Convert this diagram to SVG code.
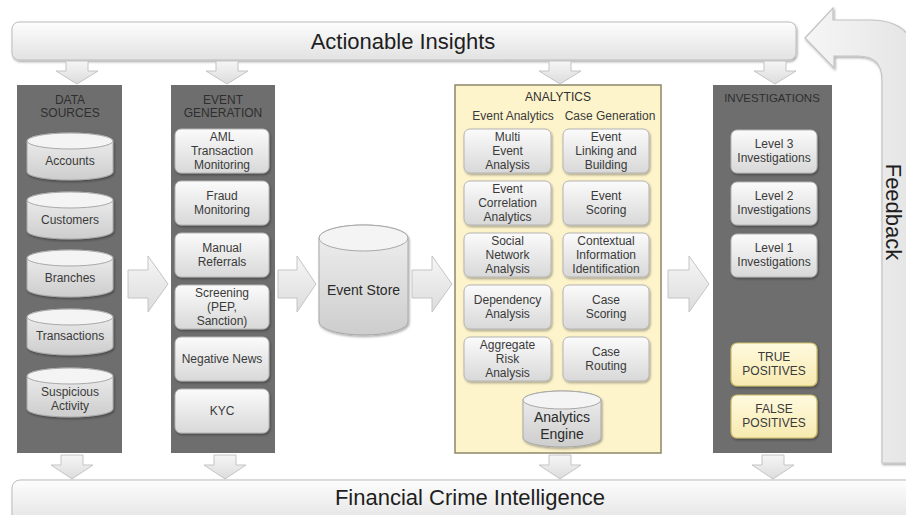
<svg xmlns="http://www.w3.org/2000/svg" width="906" height="515" viewBox="0 0 906 515">
<defs>
<linearGradient id="gBar" x1="0" y1="0" x2="0" y2="1"><stop offset="0" stop-color="#fdfdfd"/><stop offset="1" stop-color="#e2e2e2"/></linearGradient>
<linearGradient id="gBox" x1="0" y1="0" x2="0" y2="1"><stop offset="0" stop-color="#fbfbfb"/><stop offset="1" stop-color="#d8d8d8"/></linearGradient>
<linearGradient id="gCyl" x1="0" y1="0" x2="0" y2="1"><stop offset="0" stop-color="#f0f0f0"/><stop offset="1" stop-color="#cdcdcd"/></linearGradient>
<linearGradient id="gYel" x1="0" y1="0" x2="0" y2="1"><stop offset="0" stop-color="#fffadf"/><stop offset="1" stop-color="#f7eab0"/></linearGradient>
<linearGradient id="gArr" x1="0" y1="0" x2="0" y2="1"><stop offset="0" stop-color="#f6f6f6"/><stop offset="1" stop-color="#dcdcdc"/></linearGradient>
<linearGradient id="gFb" x1="0" y1="0" x2="1" y2="0"><stop offset="0" stop-color="#f6f6f6"/><stop offset="1" stop-color="#e4e4e4"/></linearGradient>
<filter id="sh" x="-10%" y="-10%" width="130%" height="140%"><feDropShadow dx="1" dy="1.5" stdDeviation="1" flood-color="#000" flood-opacity="0.35"/></filter>
</defs>
<style>
.panel{fill:#6e6e6e}
.apanel{fill:#fdf4cc;stroke:#8d8768;stroke-width:1.5}
.box{fill:url(#gBox);stroke:#b4b4b4;stroke-width:1;filter:url(#sh)}
.ybox{fill:url(#gYel);stroke:#cbbb6a;stroke-width:1.2;filter:url(#sh)}
.cyl{fill:url(#gCyl);stroke:#a8a8a8;stroke-width:1;filter:url(#sh)}
.cyltop{fill:#f4f4f4;stroke:#a8a8a8;stroke-width:1}
.bar{fill:url(#gBar);stroke:#bdbdbd;stroke-width:1;filter:url(#sh)}
.arr{fill:url(#gArr);stroke:#c4c4c4;stroke-width:1}
.fb{fill:url(#gFb);stroke:#c2c2c2;stroke-width:1.2;filter:url(#sh)}
text{font-family:"Liberation Sans",Arial,sans-serif;fill:#3a3a3a;text-anchor:middle}
.t{font-size:12px}
.h{font-size:12px;fill:#2e2e2e}
.big{font-size:22px;fill:#1e1e1e}
.cy{font-size:14px;fill:#2a2a2a}
</style>

<g id="actionable-insights">
<rect class="bar" x="12" y="22" width="784" height="38" rx="7"/>
<text class="big" x="403" y="49">Actionable Insights</text>
</g>

<g id="financial-crime-intelligence">
<rect class="bar" x="12" y="480" width="910" height="45" rx="8"/>
<text class="big" x="470" y="505">Financial Crime Intelligence</text>
</g>

<g id="feedback">
<path class="fb" d="M805,38 L833,8 L833,20 L870,20 Q917,20 917,67 L917,463 L882,463 L882,80 Q882,56 858,56 L834,56 L834,68 Z"/>
<text class="big" transform="translate(886,212) rotate(90)" x="0" y="0">Feedback</text>
</g>

<g id="data-sources">
<rect class="panel" x="17" y="85" width="105" height="368"/>
<text class="h" x="70" y="104">DATA</text>
<text class="h" x="70" y="117">SOURCES</text>
<g id="accounts">
<path class="cyl" d="M27,141 A43,8 0 0 1 113,141 V172 A43,8 0 0 1 27,172 Z"/>
<ellipse class="cyltop" cx="70" cy="141" rx="43" ry="8"/>
<text class="t" x="70" y="165">Accounts</text>
</g>
<g id="customers">
<path class="cyl" d="M27,200 A43,8 0 0 1 113,200 V231 A43,8 0 0 1 27,231 Z"/>
<ellipse class="cyltop" cx="70" cy="200" rx="43" ry="8"/>
<text class="t" x="70" y="224">Customers</text>
</g>
<g id="branches">
<path class="cyl" d="M27,258 A43,8 0 0 1 113,258 V289 A43,8 0 0 1 27,289 Z"/>
<ellipse class="cyltop" cx="70" cy="258" rx="43" ry="8"/>
<text class="t" x="70" y="282">Branches</text>
</g>
<g id="transactions">
<path class="cyl" d="M27,317 A43,8 0 0 1 113,317 V347 A43,8 0 0 1 27,347 Z"/>
<ellipse class="cyltop" cx="70" cy="317" rx="43" ry="8"/>
<text class="t" x="70" y="340">Transactions</text>
</g>
<g id="suspicious-activity">
<path class="cyl" d="M27,376 A43,8 0 0 1 113,376 V409 A43,8 0 0 1 27,409 Z"/>
<ellipse class="cyltop" cx="70" cy="376" rx="43" ry="8"/>
<text class="t" x="70" y="396">Suspicious</text>
<text class="t" x="70" y="410">Activity</text>
</g>
</g>

<g id="event-generation">
<rect class="panel" x="171" y="85" width="104" height="368"/>
<text class="h" x="223" y="104">EVENT</text>
<text class="h" x="223" y="117">GENERATION</text>
<g id="aml"><rect class="box" x="175" y="129" width="94" height="44" rx="6"/>
<text class="t" x="222" y="141">AML</text><text class="t" x="222" y="155">Transaction</text><text class="t" x="222" y="169">Monitoring</text></g>
<g id="fraud"><rect class="box" x="175" y="181" width="94" height="44" rx="6"/>
<text class="t" x="222" y="200">Fraud</text><text class="t" x="222" y="214">Monitoring</text></g>
<g id="manual"><rect class="box" x="175" y="233" width="94" height="44" rx="6"/>
<text class="t" x="222" y="252">Manual</text><text class="t" x="222" y="266">Referrals</text></g>
<g id="screening"><rect class="box" x="175" y="285" width="94" height="44" rx="6"/>
<text class="t" x="222" y="297">Screening</text><text class="t" x="222" y="311">(PEP,</text><text class="t" x="222" y="325">Sanction)</text></g>
<g id="negative-news"><rect class="box" x="175" y="337" width="94" height="44" rx="6"/>
<text class="t" x="222" y="363">Negative News</text></g>
<g id="kyc"><rect class="box" x="175" y="389" width="94" height="44" rx="6"/>
<text class="t" x="222" y="415">KYC</text></g>
</g>

<g id="event-store">
<path class="cyl" d="M319,238 A44.5,13 0 0 1 408,238 V322 A44.5,13 0 0 1 319,322 Z"/>
<ellipse class="cyltop" cx="363.5" cy="238" rx="44.5" ry="13"/>
<text class="cy" x="363.5" y="295">Event Store</text>
</g>

<g id="analytics">
<rect class="apanel" x="455" y="85" width="206" height="368"/>
<text class="h" x="558" y="101">ANALYTICS</text>
<text class="t" x="513" y="120">Event Analytics</text>
<text class="t" x="610" y="120">Case Generation</text>
<g id="multi-event"><rect class="box" x="464" y="129" width="87" height="44" rx="6"/>
<text class="t" x="507.5" y="141">Multi</text><text class="t" x="507.5" y="155">Event</text><text class="t" x="507.5" y="169">Analysis</text></g>
<g id="event-correlation"><rect class="box" x="464" y="181" width="87" height="44" rx="6"/>
<text class="t" x="507.5" y="193">Event</text><text class="t" x="507.5" y="207">Correlation</text><text class="t" x="507.5" y="221">Analytics</text></g>
<g id="social-network"><rect class="box" x="464" y="233" width="87" height="44" rx="6"/>
<text class="t" x="507.5" y="245">Social</text><text class="t" x="507.5" y="259">Network</text><text class="t" x="507.5" y="273">Analysis</text></g>
<g id="dependency"><rect class="box" x="464" y="285" width="87" height="44" rx="6"/>
<text class="t" x="507.5" y="304">Dependency</text><text class="t" x="507.5" y="318">Analysis</text></g>
<g id="aggregate-risk"><rect class="box" x="464" y="337" width="87" height="44" rx="6"/>
<text class="t" x="507.5" y="349">Aggregate</text><text class="t" x="507.5" y="363">Risk</text><text class="t" x="507.5" y="377">Analysis</text></g>
<g id="event-linking"><rect class="box" x="563" y="129" width="86" height="44" rx="6"/>
<text class="t" x="606" y="141">Event</text><text class="t" x="606" y="155">Linking and</text><text class="t" x="606" y="169">Building</text></g>
<g id="event-scoring"><rect class="box" x="563" y="181" width="86" height="44" rx="6"/>
<text class="t" x="606" y="200">Event</text><text class="t" x="606" y="214">Scoring</text></g>
<g id="contextual"><rect class="box" x="563" y="233" width="86" height="44" rx="6"/>
<text class="t" x="606" y="245">Contextual</text><text class="t" x="606" y="259">Information</text><text class="t" x="606" y="273">Identification</text></g>
<g id="case-scoring"><rect class="box" x="563" y="285" width="86" height="44" rx="6"/>
<text class="t" x="606" y="304">Case</text><text class="t" x="606" y="318">Scoring</text></g>
<g id="case-routing"><rect class="box" x="563" y="337" width="86" height="44" rx="6"/>
<text class="t" x="606" y="356">Case</text><text class="t" x="606" y="370">Routing</text></g>
<g id="analytics-engine">
<path class="cyl" d="M523,400 A39,9 0 0 1 601,400 V438 A39,9 0 0 1 523,438 Z"/>
<ellipse class="cyltop" cx="562" cy="400" rx="39" ry="9"/>
<text class="cy" x="562" y="422">Analytics</text>
<text class="cy" x="562" y="439">Engine</text>
</g>
</g>

<g id="investigations">
<rect class="panel" x="713" y="85" width="119" height="368"/>
<text class="h" x="772" y="102" style="font-size:11.5px">INVESTIGATIONS</text>
<g id="level3"><rect class="box" x="731" y="130" width="86" height="43" rx="6"/>
<text class="t" x="774" y="148">Level 3</text><text class="t" x="774" y="162">Investigations</text></g>
<g id="level2"><rect class="box" x="731" y="182" width="86" height="43" rx="6"/>
<text class="t" x="774" y="200">Level 2</text><text class="t" x="774" y="214">Investigations</text></g>
<g id="level1"><rect class="box" x="731" y="234" width="86" height="43" rx="6"/>
<text class="t" x="774" y="252">Level 1</text><text class="t" x="774" y="266">Investigations</text></g>
<g id="true-positives"><rect class="ybox" x="731" y="343" width="86" height="43" rx="6"/>
<text class="t" x="774" y="361">TRUE</text><text class="t" x="774" y="375">POSITIVES</text></g>
<g id="false-positives"><rect class="ybox" x="731" y="395" width="86" height="43" rx="6"/>
<text class="t" x="774" y="413">FALSE</text><text class="t" x="774" y="427">POSITIVES</text></g>
</g>

<g id="connectors">
<polygon class="arr" points="128,270 148,270 148,256 168,284 148,312 148,298 128,298"/>
<polygon class="arr" points="278,270 297,270 297,256 316,284 297,312 297,298 278,298"/>
<polygon class="arr" points="412,270 432,270 432,256 452,284 432,312 432,298 412,298"/>
<polygon class="arr" points="668,270 689,270 689,256 709,284 689,312 689,298 668,298"/>
<polygon class="arr" points="66,61 88,61 88,71 98,71 77,84 56,71 66,71"/>
<polygon class="arr" points="216,61 238,61 238,71 248,71 227,84 206,71 216,71"/>
<polygon class="arr" points="549,61 571,61 571,71 581,71 560,84 539,71 549,71"/>
<polygon class="arr" points="764,61 786,61 786,71 796,71 775,84 754,71 764,71"/>
<polygon class="arr" points="61,455 83,455 83,465 93,465 72,479 51,465 61,465"/>
<polygon class="arr" points="214,455 236,455 236,465 246,465 225,479 204,465 214,465"/>
<polygon class="arr" points="549,455 571,455 571,465 581,465 560,479 539,465 549,465"/>
<polygon class="arr" points="762,455 784,455 784,465 794,465 773,479 752,465 762,465"/>
</g>
</svg>
